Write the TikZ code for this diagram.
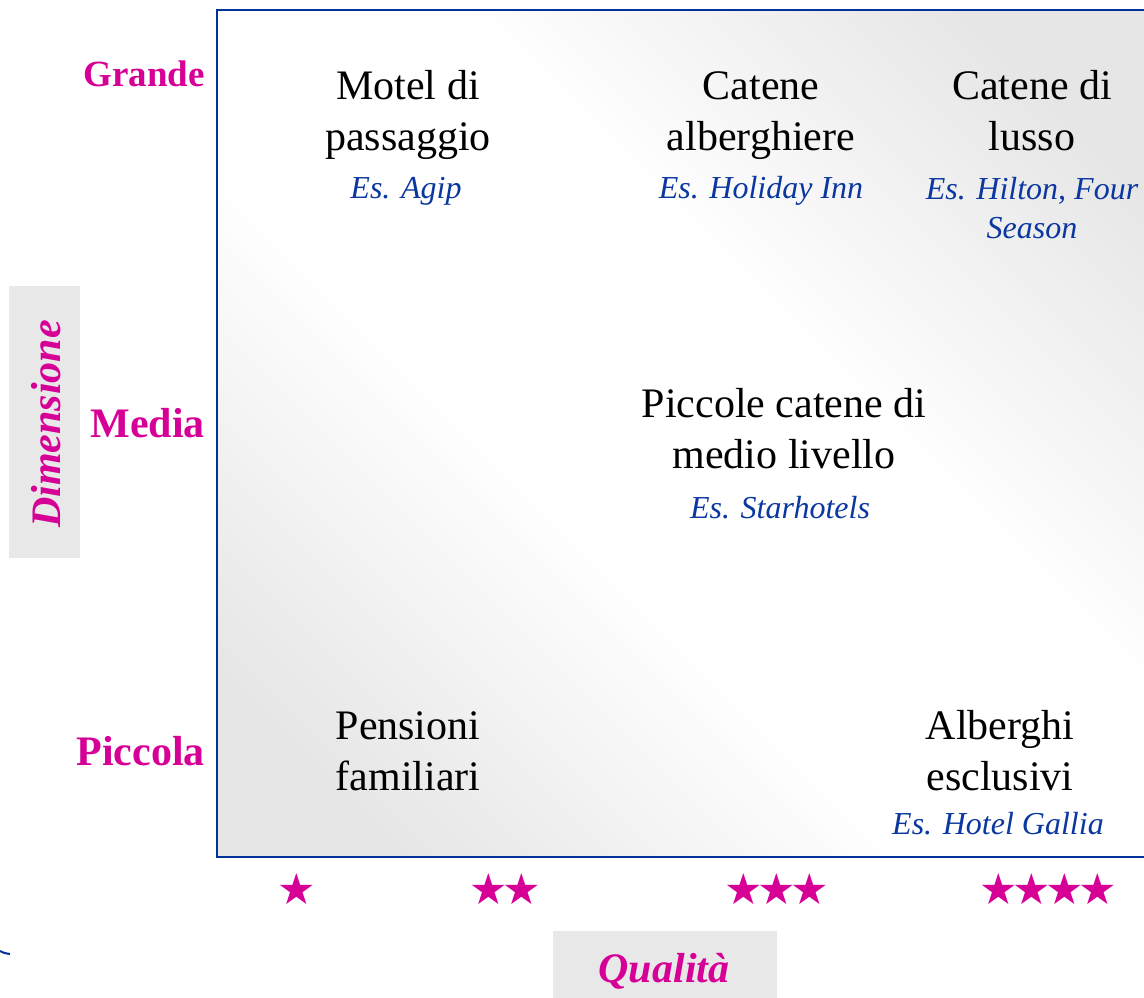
\documentclass[tikz,border=0pt]{standalone}
\usepackage{fontspec}
\setmainfont{Liberation Serif}
\newfontfamily\symfont{DejaVu Sans}
\definecolor{mag}{RGB}{214,0,150}
\definecolor{frameblue}{RGB}{0,51,153}
\definecolor{exblue}{RGB}{10,55,160}
\definecolor{boxgray}{RGB}{232,232,232}
\definecolor{shadegray}{RGB}{230,230,230}
\pgfdeclareverticalshading{diagband}{100bp}{color(0bp)=(shadegray); color(22bp)=(shadegray); color(42bp)=(white); color(58bp)=(white); color(78bp)=(shadegray); color(100bp)=(shadegray)}
\newcommand\sk{\kern-5.5pt}
\begin{document}
\begin{tikzpicture}[x=1pt,y=-1pt,
  main/.style={font=\fontsize{42}{51}\selectfont, align=center, inner sep=0pt, anchor=base},
  ex/.style={font=\fontsize{32}{39}\selectfont\itshape, text=exblue, align=center, inner sep=0pt, anchor=base},
  axlab/.style={font=\fontsize{42}{50}\selectfont\bfseries, text=mag, inner sep=0pt, anchor=base east},
  ttl/.style={font=\fontsize{42}{50}\selectfont\bfseries\itshape, text=mag, inner sep=0pt, anchor=base},
  starlab/.style={font=\symfont\fontsize{43}{45}\selectfont, text=mag, inner sep=0pt},
  lblbox/.style={fill=boxgray, draw=none}]
\useasboundingbox (0,0) rectangle (1144,998);
% plot area
\shade[shading=diagband, shading angle=-45] (217,10) rectangle (1150,857);
\draw[frameblue, line width=1.5pt] (1150,10) -- (217,10) -- (217,857) -- (1150,857);
% axis title boxes
\fill[lblbox] (9,286) rectangle (80,558);
\fill[lblbox] (553,931) rectangle (777,1000);
\node[ttl, rotate=90] (dim) at (60,424) {Dimensione};
\node[ttl] (qual) at (664,982) {Qualità};
% size labels
\node[axlab, font=\fontsize{37}{44}\selectfont\bfseries] (grande) at (205,87) {Grande};
\node[axlab] (media) at (205,437) {Media};
\node[axlab] (piccola) at (205,765) {Piccola};
% quality stars
\node[starlab] (s1) at (297,889) {★};
\node[starlab] (s2) at (505,889) {★\sk★};
\node[starlab] (s3) at (777,889) {★\sk★\sk★};
\node[starlab] (s4) at (1048,889) {★\sk★\sk★\sk★};
% cells (anchor = baseline of the last line)
\node[main] (motel) at (408,150) {Motel di\\passaggio};
\node[ex] (agip) at (406,198) {Es. Agip};
\node[main] (catene) at (761,150) {Catene\\alberghiere};
\node[ex] (holiday) at (761,198) {Es. Holiday Inn};
\node[main] (lusso) at (1032,150) {Catene di\\lusso};
\node[ex] (hilton) at (1032,238) {Es. Hilton, Four\\Season};
\node[main] (piccole) at (784,468) {Piccole catene di\\medio livello};
\node[ex] (star) at (780,518) {Es. Starhotels};
\node[main] (pensioni) at (408,790) {Pensioni\\familiari};
\node[main] (alberghi) at (1000,790) {Alberghi\\esclusivi};
\node[ex] (gallia) at (998,834) {Es. Hotel Gallia};
% stray stroke at lower left
\draw[frameblue, line width=2pt] (0,951) .. controls (4,953) .. (10,954);
\end{tikzpicture}
\end{document}
